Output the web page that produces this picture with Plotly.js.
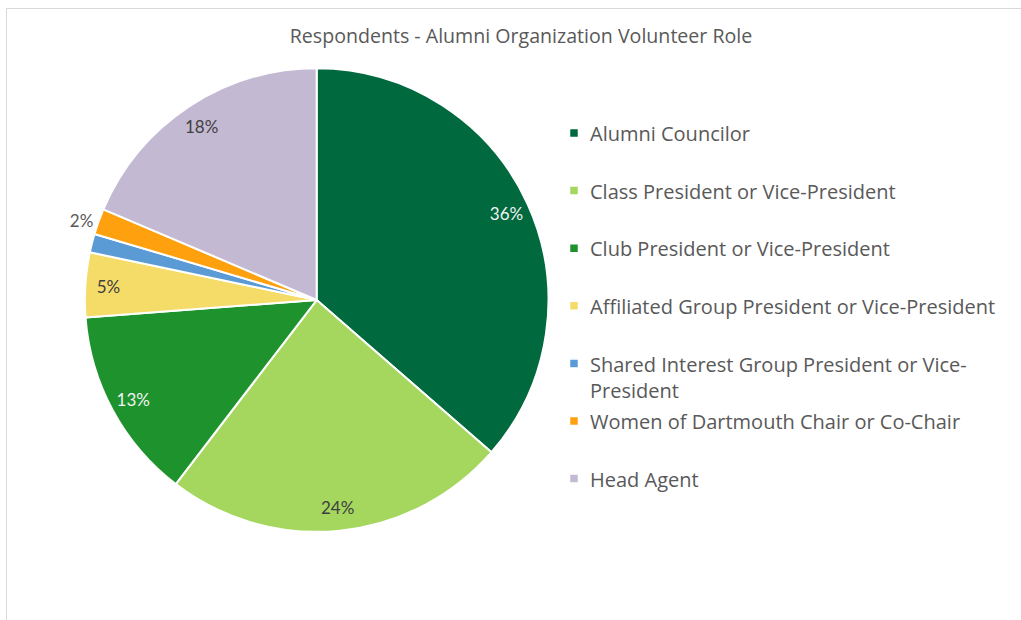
<!DOCTYPE html>
<html>
<head>
<meta charset="utf-8">
<script src="https://cdn.plot.ly/plotly-3.0.1.min.js"></script>
<style>
  html, body { margin: 0; padding: 0; background: #ffffff; overflow: hidden; }
  #frame { position: absolute; left: 6px; top: 8px; width: 1100px; height: 700px; border: 1px solid #d9d9d9; }
  #chart { position: absolute; left: 0; top: 0; width: 1021px; height: 620px; }
</style>
</head>
<body>
<div id="frame"></div>
<div id="chart"></div>
<script>
// ---- data ----
var categories = [
  "Alumni Councilor",
  "Class President or Vice-President",
  "Club President or Vice-President",
  "Affiliated Group President or Vice-President",
  "Shared Interest Group President or Vice-President",
  "Women of Dartmouth Chair or Co-Chair",
  "Head Agent"
];
var shares = [36.4, 24.0, 13.4, 4.5, 1.3, 1.8, 18.6];          // slice sizes (percent)
var percentLabels = ["36%", "24%", "13%", "5%", "", "2%", "18%"]; // data labels as printed
var sliceColors = ["#00693e", "#a5d75f", "#1e932d", "#f5dc69", "#5b9bd5", "#ffa00f", "#c4b9d2"];
var labelColors = ["#f2f2f2", "#404040", "#f2f2f2", "#404040", "#404040", "#404040", "#404040"];
var labelPositions = ["inside", "inside", "inside", "inside", "none", "outside", "inside"];

// legend text: wrap long names, add a spacer line so entries are evenly spaced
function wrapName(s, maxLen) {
  if (s.length <= maxLen) return s + "<br>\u00a0";
  var cut = -1;
  for (var i = 0; i < maxLen; i++) { if (s[i] === "-" || s[i] === " ") cut = i; }
  var first = s.slice(0, cut + 1), rest = s.slice(cut + 1);
  return first.trim() + "<br>" + rest.trim();
}
var legendLabels = categories.map(function (c) { return wrapName(c, 46); });

var labelFont = "Lato, 'Open Sans', sans-serif";
var textFont = "'Open Sans', Lato, sans-serif";

var pieDomain = { x: [0.0832, 0.5377], y: [0.1419, 0.8903] };

var slices = {
  type: "pie",
  labels: legendLabels,
  values: shares,
  sort: false,
  direction: "clockwise",
  rotation: 0,
  domain: pieDomain,
  marker: { colors: sliceColors, line: { color: "#ffffff", width: 2 } },
  textinfo: "none",
  hoverinfo: "skip",
  showlegend: true
};

var labelRing = {
  type: "pie",
  labels: legendLabels,
  values: shares,
  sort: false,
  direction: "clockwise",
  rotation: 0,
  hole: 0.8,
  domain: pieDomain,
  marker: { colors: categories.map(function () { return "rgba(0,0,0,0)"; }), line: { width: 0 } },
  text: percentLabels,
  texttemplate: "%{text}",
  textposition: labelPositions,
  insidetextorientation: "horizontal",
  insidetextfont: { family: labelFont, size: 17, color: labelColors },
  outsidetextfont: { family: labelFont, size: 17, color: "#595959" },
  hoverinfo: "skip",
  showlegend: false
};

var layout = {
  width: 1021,
  height: 620,
  margin: { l: 0, r: 0, t: 0, b: 0 },
  paper_bgcolor: "rgba(0,0,0,0)",
  plot_bgcolor: "rgba(0,0,0,0)",
  title: {
    text: "Respondents - Alumni Organization Volunteer Role",
    font: { family: textFont, size: 19.6, color: "#595959" },
    x: 0.5103, xanchor: "center",
    y: 0.942, yanchor: "middle"
  },
  legend: {
    x: 0.539, xanchor: "left",
    y: 0.818, yanchor: "top",
    valign: "top",
    font: { family: textFont, size: 21, color: "#595959" },
    bgcolor: "rgba(0,0,0,0)"
  },
  showlegend: true
};

Plotly.newPlot("chart", [slices, labelRing], layout, { displayModeBar: false, staticPlot: true }).then(function () {
  // legend text drawn at 20px while keeping the 21px line pitch
  document.querySelectorAll("#chart .legend text.legendtext").forEach(function (t) {
    t.style.fontSize = "20px";
  });
  // smaller square legend keys, as in the reference
  document.querySelectorAll("#chart .legend .legendpoints path").forEach(function (p) {
    var old = p.getAttribute("transform") || "";
    p.setAttribute("transform", old + " translate(4,0) scale(0.75)");
  });
});
</script>
</body>
</html>
